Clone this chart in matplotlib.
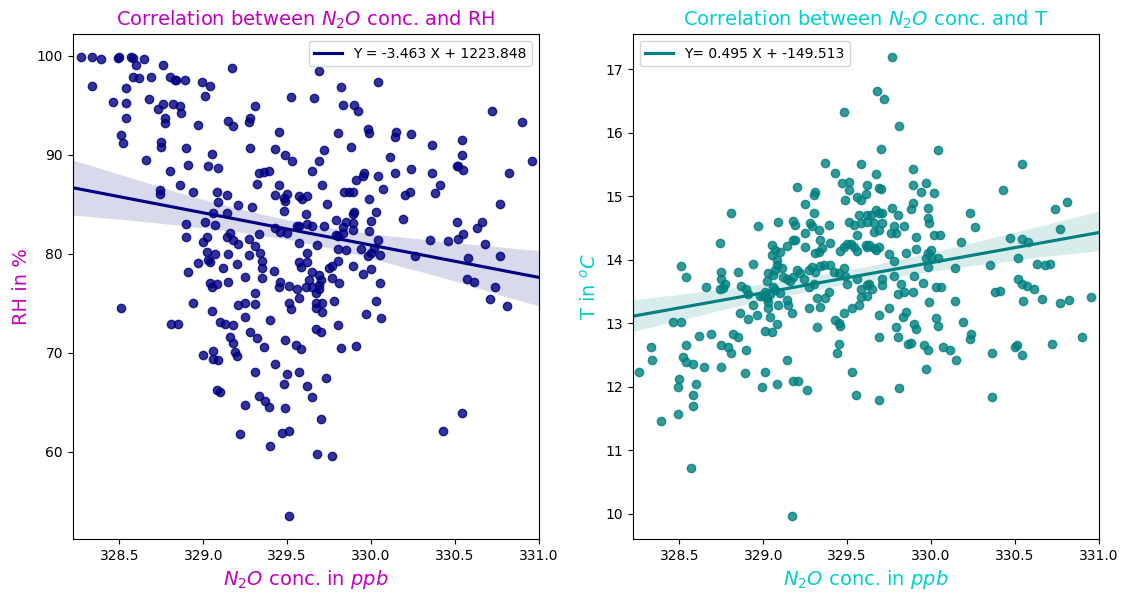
import numpy as np
import matplotlib
matplotlib.use("Agg")
import matplotlib.pyplot as plt
import seaborn as sns

# ---------------- data: N2O vs relative humidity ----------------
n2o_rh = [328.27, 328.34, 328.39, 328.49, 328.50, 328.57, 328.58, 328.65, 328.60, 328.76,
          329.17, 328.58, 328.62, 328.69, 328.80, 328.83, 328.84, 328.89, 328.99, 329.04,
          329.01, 328.34, 328.54, 328.46, 328.54, 328.68, 328.73, 328.76, 328.82, 328.86,
          328.87, 328.77, 328.77, 328.54, 328.51, 328.52, 328.75, 328.75, 328.97, 329.15,
          329.18, 329.27, 329.28, 329.31, 329.52, 329.45, 329.28, 329.43, 329.49, 329.53,
          328.90, 329.05, 328.66, 328.91, 329.03, 329.09, 328.80, 329.33, 329.36, 329.39,
          329.32, 329.45, 328.86, 328.74, 328.74, 328.94, 329.08, 329.14, 329.43, 329.48,
          329.50, 329.49, 329.57, 329.59, 329.62,
          329.09, 329.21, 329.29, 329.48, 329.61, 329.06, 329.14, 328.90, 329.01, 329.07,
          328.90, 329.02, 329.00, 329.14, 329.16, 329.18, 329.21, 329.27, 329.33, 329.43,
          329.46, 329.50, 329.56, 329.57, 329.62, 329.57, 329.02, 329.07, 329.15, 329.27,
          329.31, 329.34, 329.35, 329.35, 329.42, 329.57, 329.58, 329.62, 329.62, 328.97,
          329.03, 329.04, 329.12, 329.20, 328.91, 329.25, 329.35, 329.04, 329.05, 329.08,
          329.15, 329.45, 329.46, 329.51, 329.56, 329.61, 329.31, 329.57, 329.51, 329.52,
          329.21, 329.25, 329.31, 328.51, 328.94, 329.05, 329.25, 329.40, 328.81, 328.85,
          329.10, 329.13, 329.18, 329.28, 329.32, 329.36, 329.16, 329.18, 329.49, 329.55,
          329.58, 329.00, 329.06, 329.09, 329.06, 329.19, 329.20, 329.63,
          329.74, 329.99, 330.77, 329.79, 329.90, 329.89, 330.03, 330.00, 330.19, 330.51,
          330.66, 330.63, 329.65, 329.72, 329.85, 329.89, 329.83, 329.89, 329.79, 329.83,
          329.80, 329.99, 329.68, 330.35, 330.46, 330.52, 330.55, 330.68, 330.04, 329.80,
          329.85, 329.94, 329.98, 330.00, 330.02, 330.05, 330.26, 330.58, 330.77, 329.80,
          329.77, 329.75, 329.89, 330.00, 329.95, 329.65, 329.69, 329.70, 329.69, 329.69,
          329.67, 329.65, 329.77, 329.81, 330.05, 330.57, 330.61, 330.74, 330.71, 330.81,
          329.78, 329.67, 329.71, 329.67, 329.71, 330.03, 329.97, 330.06, 329.80, 329.67,
          329.70, 329.82, 329.91,
          329.69, 329.82, 330.04, 329.66, 329.83, 329.90, 329.92, 330.72, 330.90, 330.96,
          329.80, 329.98, 329.99, 330.15, 330.14, 330.24, 330.36, 330.54, 330.54, 329.72,
          329.69, 329.88, 330.11, 329.65, 329.71, 329.96, 329.95, 329.91, 330.04, 330.14,
          330.24, 330.36, 330.51, 330.52, 330.55, 330.82, 329.84, 329.87, 329.89, 330.07,
          330.23, 330.20, 330.41, 330.38,
          329.43, 329.31, 329.50, 329.57, 329.73, 329.48, 329.62, 329.65, 329.08, 329.10,
          329.33, 329.37, 329.39, 329.25, 329.49, 329.70, 329.22, 329.47, 329.51, 329.40,
          329.68, 329.77, 329.51, 330.43, 330.54]

rh = [99.9, 99.9, 99.7, 99.8, 99.9, 99.9, 99.8, 99.7, 99.1, 99.1,
      98.8, 97.9, 97.8, 97.9, 97.9, 97.6, 97.6, 97.6, 97.4, 97.0,
      96.0, 97.0, 96.8, 95.3, 95.2, 95.6, 94.6, 95.1, 95.1, 94.9,
      94.2, 93.7, 93.2, 93.7, 92.0, 91.2, 91.3, 90.8, 93.0, 93.4,
      92.9, 93.3, 93.7, 94.9, 95.9, 92.3, 90.7, 90.6, 90.0, 89.4,
      90.7, 90.1, 89.5, 89.0, 88.9, 88.7, 88.4, 88.2, 88.3, 88.4,
      87.1, 87.0, 87.0, 86.5, 86.0, 86.3, 86.3, 85.9, 85.9, 85.6,
      86.0, 85.3, 85.8, 85.5, 85.8,
      85.2, 84.9, 84.7, 84.3, 84.0, 84.1, 84.1, 83.0, 83.2, 82.9,
      81.7, 81.7, 81.2, 81.7, 82.1, 81.4, 81.0, 81.5, 82.0, 82.6,
      82.2, 82.1, 82.8, 82.8, 83.0, 81.1, 80.2, 80.0, 80.0, 79.9,
      80.8, 80.1, 79.3, 78.6, 78.3, 79.2, 78.7, 80.1, 79.2, 79.1,
      79.4, 79.2, 78.6, 79.0, 78.2, 77.7, 77.6, 77.1, 76.6, 77.0,
      77.2, 76.7, 77.2, 76.8, 76.4, 76.7, 76.0, 75.5, 75.0, 74.4,
      74.8, 75.0, 74.9, 74.5, 75.0, 74.2, 73.6, 73.3, 72.9, 72.9,
      73.1, 72.9, 72.8, 72.1, 71.5, 70.6, 71.6, 71.0, 71.3, 70.8,
      70.4, 69.8, 70.2, 69.3, 69.4, 70.1, 69.7, 77.4,
      85.0, 85.5, 85.0, 83.4, 84.2, 84.0, 84.2, 83.3, 83.5, 83.2,
      83.2, 82.6, 82.8, 82.8, 83.2, 83.1, 82.7, 82.4, 81.9, 82.1,
      81.8, 82.3, 80.9, 81.4, 81.3, 81.5, 82.0, 81.0, 81.4, 80.5,
      80.4, 80.5, 79.8, 80.1, 80.6, 79.9, 79.8, 79.6, 79.8, 79.3,
      78.8, 78.6, 78.8, 78.5, 78.0, 78.2, 77.9, 77.4, 76.9, 76.4,
      76.0, 76.7, 77.6, 77.1, 77.1, 77.5, 77.2, 76.7, 75.4, 74.7,
      75.2, 75.0, 75.0, 74.5, 74.1, 75.2, 73.9, 73.5, 72.8, 72.4,
      72.1, 70.5, 70.7,
      98.5, 96.9, 97.4, 95.8, 95.0, 95.0, 94.4, 94.4, 93.3, 89.4,
      92.2, 92.6, 92.2, 92.3, 91.8, 92.1, 91.0, 91.5, 90.0, 90.5,
      89.4, 90.8, 89.8, 88.4, 87.0, 88.2, 87.9, 87.5, 87.9, 88.2,
      88.6, 88.2, 88.9, 88.9, 88.5, 88.2, 86.3, 86.3, 86.3, 86.6,
      86.3, 85.9, 87.0, 86.2,
      68.9, 68.1, 67.9, 68.1, 67.5, 66.8, 66.6, 65.5, 66.2, 66.0,
      65.6, 65.1, 64.5, 64.7, 64.4, 63.3, 61.8, 61.9, 62.1, 60.6,
      59.8, 59.6, 53.5, 62.1, 63.9]

# ---------------- data: N2O vs temperature ----------------
n2o_t = [329.48, 329.37, 329.58, 329.43, 329.47, 329.51, 329.51, 329.62, 329.61, 329.56,
         329.20, 329.31, 329.30, 329.49,
         329.77, 329.68, 329.72, 329.81, 329.70, 330.04, 330.54, 329.89, 329.67, 329.69,
         329.70, 329.89, 329.97, 329.94, 330.02, 330.43, 330.81,
         329.58, 329.25, 329.30, 328.81, 328.97, 329.09, 329.18, 329.19, 329.28, 329.29,
         329.25, 329.33, 329.39, 329.51, 329.54, 329.58, 329.62, 329.57, 329.62, 329.56,
         329.34, 329.35, 329.31, 329.33, 329.40, 329.46, 329.48, 329.50, 329.52, 329.54,
         329.56, 329.62, 329.25, 329.18, 329.19, 329.14, 329.10, 329.05, 329.07, 329.05,
         329.08, 329.08, 329.11, 329.07, 328.74, 328.94, 328.51, 328.54, 328.75, 328.75,
         328.77, 328.74, 328.76, 328.85, 328.66, 328.87, 328.90, 328.91, 329.02, 329.03,
         329.06, 329.06, 329.07, 329.01, 329.00, 329.02, 329.03, 329.04, 328.98, 329.10,
         329.12, 329.14, 329.16, 329.18, 329.20, 329.22, 329.24, 329.27, 329.29, 329.31,
         329.27, 329.30, 329.34, 329.36, 329.40, 329.42, 329.45, 329.48, 329.49, 329.50,
         329.56, 329.58, 329.62, 329.14, 329.15, 329.17, 329.09, 329.03, 329.04, 328.94,
         328.86, 328.91, 328.96, 329.08, 329.01, 329.05, 329.27, 329.32, 329.34, 329.37,
         329.39, 329.32, 329.43, 329.45, 329.46, 329.48, 329.53, 329.57, 329.58, 329.62,
         329.45, 329.44, 328.46, 328.51, 328.62, 328.69, 328.82, 328.85, 328.33, 328.54,
         328.75, 328.79, 328.81, 328.90, 328.52, 328.34, 329.14,
         329.89, 329.88, 329.98, 330.74, 330.23, 330.26, 330.77, 329.64, 329.67, 329.69,
         329.71, 329.77, 329.80, 329.66, 329.71, 329.78, 329.84, 329.98, 329.99, 329.66,
         329.69, 329.76, 329.79, 329.91, 330.02, 330.05, 329.61, 329.63, 329.66, 329.67,
         329.69, 329.75, 329.78, 329.85, 329.91, 329.98, 330.00, 329.97, 330.00, 330.04,
         329.98, 330.18, 330.14, 330.35, 330.47, 330.54, 330.58, 330.52, 330.63, 330.68,
         330.71, 329.63, 329.65, 329.71, 329.71, 329.78, 329.82, 329.84, 329.80, 329.89,
         329.90, 329.95, 330.03, 330.06, 329.99, 330.14, 329.75, 329.69, 329.83, 329.85,
         329.79, 329.80, 329.90, 329.91, 329.86, 329.88, 329.69, 330.03, 330.04, 329.96,
         329.98, 330.07, 330.11, 330.19, 330.24, 330.23, 330.15, 330.36, 330.38, 330.41,
         330.52, 330.54, 330.57, 330.61, 330.66, 330.55, 330.77, 330.82, 330.95, 330.51,
         330.50, 330.54, 330.72, 330.90,
         328.26, 328.54, 328.58, 328.65, 328.75, 328.89, 329.01, 328.50, 328.49, 328.60,
         328.58, 328.58, 328.49, 328.39, 328.57, 328.99, 329.08, 329.18, 329.21, 329.26,
         329.17, 329.53, 329.55, 329.69, 329.81, 329.97, 330.36]

temp = [16.32, 15.52, 15.50, 15.37, 15.21, 15.22, 15.10, 15.18, 15.03, 14.99,
        15.14, 15.07, 15.01, 14.94,
        17.19, 16.66, 16.52, 16.10, 15.74, 15.73, 15.50, 15.42, 15.34, 15.12,
        15.11, 15.17, 15.21, 15.06, 15.05, 15.10, 14.91,
        14.94, 14.87, 14.73, 14.74, 14.53, 14.59, 14.61, 14.55, 14.57, 14.53,
        14.41, 14.46, 14.55, 14.59, 14.54, 14.57, 14.59, 14.70, 14.70, 14.39,
        14.31, 14.18, 14.10, 14.12, 14.26, 14.14, 14.20, 14.24, 14.25, 14.19,
        14.13, 14.19, 14.20, 14.31, 14.31, 14.21, 14.12, 14.23, 14.15, 14.07,
        14.00, 13.92, 13.86, 13.84, 14.26, 13.93, 13.90, 13.72, 13.81, 13.70,
        13.61, 13.53, 13.55, 13.81, 13.57, 13.58, 13.54, 13.45, 13.66, 13.78,
        13.75, 13.57, 13.52, 13.49, 13.42, 13.39, 13.33, 13.46, 13.42, 13.48,
        13.73, 13.69, 13.66, 13.72, 13.83, 13.78, 13.70, 13.83, 13.88, 13.80,
        13.57, 13.62, 13.90, 13.91, 13.92, 13.81, 13.79, 13.86, 13.74, 13.61,
        13.69, 13.54, 13.60, 13.36, 13.28, 13.16, 13.29, 13.23, 13.10, 13.28,
        13.15, 13.06, 13.12, 12.98, 12.87, 12.86, 13.23, 13.39, 13.26, 13.39,
        13.49, 12.93, 13.05, 13.00, 12.96, 13.16, 13.24, 13.29, 13.41, 13.42,
        12.67, 12.52, 13.01, 13.01, 12.79, 12.83, 12.83, 12.78, 12.62, 12.66,
        12.66, 12.62, 12.52, 12.57, 12.46, 12.42, 12.41,
        14.89, 14.79, 14.81, 14.79, 14.73, 14.51, 14.48, 14.70, 14.78, 14.73,
        14.73, 14.81, 14.70, 14.57, 14.58, 14.53, 14.53, 14.65, 14.57, 14.44,
        14.46, 14.42, 14.41, 14.36, 14.39, 14.39, 14.23, 14.23, 14.18, 14.15,
        14.20, 14.09, 13.97, 14.11, 14.16, 14.10, 14.15, 14.02, 14.04, 14.02,
        13.88, 14.27, 13.86, 13.91, 14.34, 14.33, 14.28, 14.02, 13.93, 13.91,
        13.93, 13.61, 13.53, 13.69, 13.60, 13.74, 13.62, 13.49, 13.45, 13.49,
        13.74, 13.63, 13.57, 13.57, 13.33, 13.34, 13.24, 13.13, 13.09, 13.17,
        12.94, 12.78, 12.99, 12.91, 12.67, 12.68, 12.78, 13.08, 12.96, 12.65,
        12.57, 12.62, 12.58, 13.02, 12.83, 12.75, 12.42, 12.52, 13.49, 13.51,
        13.70, 13.61, 13.58, 13.53, 13.38, 13.34, 13.32, 13.37, 13.41, 12.65,
        12.63, 12.49, 12.67, 12.78,
        12.23, 12.38, 12.35, 12.30, 12.30, 12.21, 12.23, 12.12, 11.99, 12.04,
        11.87, 11.70, 11.57, 11.46, 10.72, 12.00, 12.04, 12.08, 12.08, 11.95,
        9.96, 12.23, 11.87, 11.78, 11.97, 12.28, 11.83]

label_rh = "Y = -3.463 X + 1223.848"
label_t = "Y= 0.495 X + -149.513"
x_limits = (328.2226, 331.0)

title_rh = "Correlation between $N_2O$ conc. and RH"
title_t = "Correlation between $N_2O$ conc. and T"
xlabel = "$N_2O$ conc. in $ppb$"

fig = plt.figure(figsize=(11.29, 5.98), dpi=100)
ax1 = fig.add_axes([72.7 / 1129, 59 / 598, 466.3 / 1129, 505 / 598])
ax2 = fig.add_axes([632.7 / 1129, 59 / 598, 466.3 / 1129, 505 / 598])

col_rh_text = "m"
col_t_text = "darkturquoise"

for ax, xs, ys, col, lab, title, ylab, tcol, loc in [
        (ax1, n2o_rh, rh, "navy", label_rh, title_rh, "RH in %", col_rh_text, "upper right"),
        (ax2, n2o_t, temp, "teal", label_t, title_t, "T in $^oC$", col_t_text, "upper left")]:
    ax.set_xlim(*x_limits)
    sns.regplot(x=np.array(xs), y=np.array(ys), ax=ax, color=col, truncate=False,
                seed=3, line_kws={"label": lab})
    ax.set_xlim(*x_limits)
    ax.set_title(title, color=tcol, fontsize=14)
    ax.set_xlabel(xlabel, color=tcol, fontsize=14)
    ax.set_ylabel(ylab, color=tcol, fontsize=14)
    ax.legend(loc=loc, fontsize=10)

ax1.set_xticks([328.5, 329.0, 329.5, 330.0, 330.5, 331.0])
ax2.set_xticks([328.5, 329.0, 329.5, 330.0, 330.5, 331.0])

fig.savefig("out.png", dpi=100)
